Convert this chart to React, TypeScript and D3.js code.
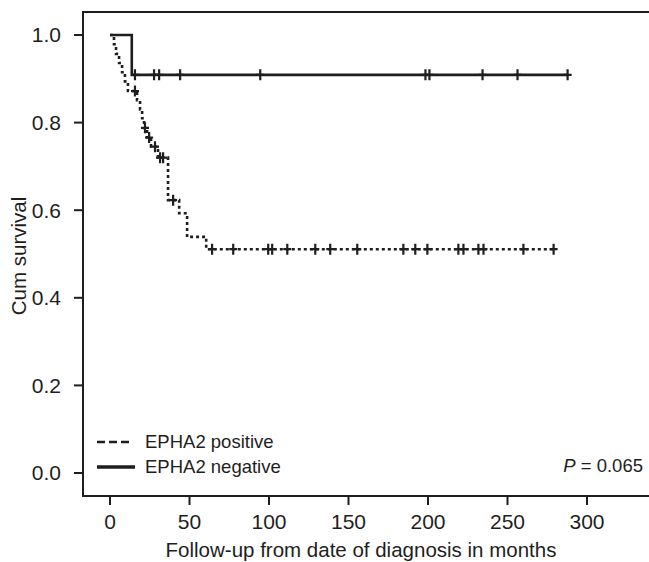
import React, { useEffect, useRef } from 'react';
import * as d3 from 'd3';

// EPHA2 positive: [months, cum survival] step points
const positiveSteps: [number, number][] = [
  [0, 1.0], [2.5, 0.979], [3.8, 0.957], [5.7, 0.936], [7.6, 0.915], [9.4, 0.894],
  [11.3, 0.872], [17.0, 0.851], [18.9, 0.83], [20.2, 0.81], [21.4, 0.788],
  [23.3, 0.766], [25.8, 0.745], [30.2, 0.72], [36.5, 0.623], [43.5, 0.593],
  [48.5, 0.539], [60.5, 0.511], [279, 0.511],
];
const positiveCensored = [
  15.7, 22, 24.6, 28.3, 31.5, 33.4, 39.7, 64.2, 77.5, 99.5, 102, 111.5, 129.1,
  138.5, 155.5, 184.5, 192, 199.6, 219.1, 222.3, 231.7, 234.9, 260, 279,
];

// EPHA2 negative
const negativeSteps: [number, number][] = [[0, 1.0], [13.7, 0.909], [287.8, 0.909]];
const negativeCensored = [15.7, 27.7, 30.9, 44.1, 94.5, 198.4, 200.9, 234.3, 256.3, 287.8];

const xTicks = [0, 50, 100, 150, 200, 250, 300];
const yTicks = [0, 0.2, 0.4, 0.6, 0.8, 1.0];

const legendLabels = ['EPHA2 positive', 'EPHA2 negative'];
const pLabel = '0.065';

const App = () => {
  const svgRef = useRef<SVGSVGElement>(null);

  useEffect(() => {
    const width = 649;
    const height = 562;
    const ink = '#1e1e1e';
    const font = 'Liberation Sans, Arial, sans-serif';
    const frame = { left: 83, top: 12, bottom: 496 };

    const svg = d3.select(svgRef.current)
      .attr('width', width)
      .attr('height', height);
    svg.selectAll('*').remove();

    const x = d3.scaleLinear().domain([0, 300]).range([110, 587]);
    const y = d3.scaleLinear().domain([0, 1]).range([473, 35]);

    // frame
    svg.append('path')
      .attr('d', `M${width},${frame.top}H${frame.left}V${frame.bottom}H${width}`)
      .attr('fill', 'none')
      .attr('stroke', ink)
      .attr('stroke-width', 2);

    // y axis
    const yg = svg.append('g').attr('font-family', font).attr('font-size', 21).attr('fill', ink);
    yTicks.forEach(t => {
      yg.append('line')
        .attr('x1', frame.left - 9).attr('x2', frame.left)
        .attr('y1', y(t)).attr('y2', y(t))
        .attr('stroke', ink).attr('stroke-width', 2);
      yg.append('text')
        .attr('x', frame.left - 22).attr('y', y(t)).attr('dy', '0.35em')
        .attr('text-anchor', 'end')
        .text(d3.format('.1f')(t));
    });

    // x axis
    const xg = svg.append('g').attr('font-family', font).attr('font-size', 21).attr('fill', ink);
    xTicks.forEach(t => {
      xg.append('line')
        .attr('x1', x(t)).attr('x2', x(t))
        .attr('y1', frame.bottom).attr('y2', frame.bottom + 9)
        .attr('stroke', ink).attr('stroke-width', 2);
      xg.append('text')
        .attr('x', x(t)).attr('y', frame.bottom + 33)
        .attr('text-anchor', 'middle')
        .text(t);
    });

    svg.append('text')
      .attr('x', 361).attr('y', 557)
      .attr('text-anchor', 'middle')
      .attr('font-family', font).attr('font-size', 20.5).attr('fill', ink)
      .text('Follow-up from date of diagnosis in months');

    svg.append('text')
      .attr('transform', `translate(26,256) rotate(-90)`)
      .attr('text-anchor', 'middle')
      .attr('font-family', font).attr('font-size', 20.5).attr('fill', ink)
      .text('Cum survival');

    const line = d3.line<[number, number]>()
      .x(d => x(d[0]))
      .y(d => y(d[1]))
      .curve(d3.curveStepAfter);

    const survAt = (steps: [number, number][], t: number) => {
      let s = steps[0][1];
      steps.forEach(d => { if (d[0] <= t) s = d[1]; });
      return s;
    };

    const drawCensor = (steps: [number, number][], times: number[]) => {
      svg.append('g')
        .selectAll('path')
        .data(times)
        .join('path')
        .attr('d', t => {
          const cx = x(t), cy = y(survAt(steps, t));
          return `M${cx},${cy - 5.5}V${cy + 5.5}M${cx - 4},${cy}H${cx + 4}`;
        })
        .attr('stroke', ink)
        .attr('stroke-width', 2.2)
        .attr('fill', 'none');
    };

    svg.append('path')
      .attr('d', line(negativeSteps))
      .attr('fill', 'none')
      .attr('stroke', ink)
      .attr('stroke-width', 2.6);
    drawCensor(negativeSteps, negativeCensored);

    svg.append('path')
      .attr('d', line(positiveSteps))
      .attr('fill', 'none')
      .attr('stroke', ink)
      .attr('stroke-width', 2.6)
      .attr('stroke-dasharray', '3,3');
    drawCensor(positiveSteps, positiveCensored);

    // legend
    const lg = svg.append('g').attr('font-family', font).attr('font-size', 18.5).attr('fill', ink);
    lg.append('line')
      .attr('x1', 97).attr('x2', 133).attr('y1', 442).attr('y2', 442)
      .attr('stroke', ink).attr('stroke-width', 2.5).attr('stroke-dasharray', '8,4');
    lg.append('line')
      .attr('x1', 97).attr('x2', 135).attr('y1', 467).attr('y2', 467)
      .attr('stroke', ink).attr('stroke-width', 3.5);
    legendLabels.forEach((l, i) => {
      lg.append('text')
        .attr('x', 145).attr('y', 442 + i * 25).attr('dy', '0.35em')
        .text(l);
    });

    const pt = svg.append('text')
      .attr('x', 643).attr('y', 466).attr('dy', '0.35em')
      .attr('text-anchor', 'end')
      .attr('font-family', font).attr('font-size', 18.5).attr('fill', ink);
    pt.append('tspan').attr('font-style', 'italic').text('P');
    pt.append('tspan').text(` = ${pLabel}`);
  }, []);

  return <svg ref={svgRef} style={{ position: 'absolute', left: 0, top: 0 }}></svg>;
};

export default App;
